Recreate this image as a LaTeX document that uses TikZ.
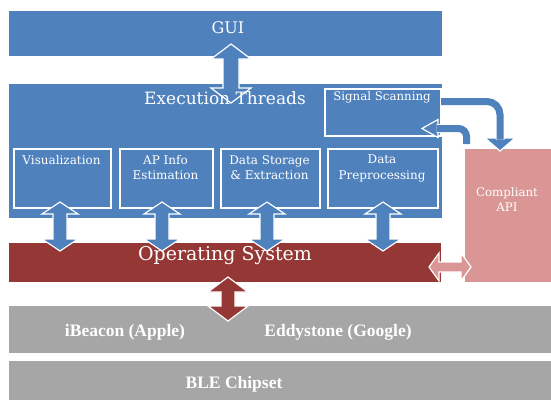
\documentclass[tikz,border=0pt]{standalone}
\usepackage{fontspec}
\setmainfont{DejaVu Serif}
\newfontfamily\timesf{Liberation Serif}
\definecolor{oblue}{HTML}{4F81BD}
\definecolor{ored}{HTML}{953735}
\definecolor{opink}{HTML}{D99694}
\definecolor{ogrey}{HTML}{A6A6A6}
\newcommand{\VDArrow}[7]{%
  \filldraw[#7] (#1,#2) -- ({#1+#4},{#2+#6}) -- ({#1+#5},{#2+#6}) -- ({#1+#5},{#3-#6}) -- ({#1+#4},{#3-#6}) -- (#1,#3)
   -- ({#1-#4},{#3-#6}) -- ({#1-#5},{#3-#6}) -- ({#1-#5},{#2+#6}) -- ({#1-#4},{#2+#6}) -- cycle;}
\newcommand{\HDArrow}[7]{%
  \filldraw[#7] (#1,#3) -- ({#1+#6},{#3-#4}) -- ({#1+#6},{#3-#5}) -- ({#2-#6},{#3-#5}) -- ({#2-#6},{#3-#4}) -- (#2,#3)
   -- ({#2-#6},{#3+#4}) -- ({#2-#6},{#3+#5}) -- ({#1+#6},{#3+#5}) -- ({#1+#6},{#3+#4}) -- cycle;}
\tikzset{
  blk/.style={draw=white, line width=1pt, inner sep=0pt, anchor=north west},
  sub/.style={draw=white, line width=1.6pt, inner sep=0pt, anchor=north west, fill=oblue},
  txt/.style={text=white, inner sep=0pt, align=center},
  barrow/.style={fill=oblue, draw=white, line width=1.2pt, line join=miter},
  rarrow/.style={fill=ored, draw=white, line width=1.2pt},
  parrow/.style={fill=opink, draw=white, line width=1.2pt},
  bshaft/.style={draw=white, line width=1pt, double=oblue, double distance=7pt}
}
\begin{document}
\begin{tikzpicture}[x=1pt,y=-1pt]
\useasboundingbox[fill=white] (0,0) rectangle (551,402);
% boxes
\node[blk, fill=oblue, minimum width=434pt, minimum height=46.5pt] (gui) at (8,9.5) {};
\node[blk, fill=oblue, minimum width=434pt, minimum height=135pt] (exec) at (8,83) {};
\node[blk, draw=white, line width=2pt, fill=oblue, minimum width=116pt, minimum height=47pt] (scan) at (324,88) {};
\node[sub, minimum width=97pt, minimum height=59pt] (vis) at (13,148) {};
\node[sub, minimum width=93pt, minimum height=59pt] (ap) at (119,148) {};
\node[sub, minimum width=99pt, minimum height=59pt] (ds) at (220,148) {};
\node[sub, minimum width=110pt, minimum height=59pt] (dp) at (327,148) {};
\node[blk, fill=ored, minimum width=433pt, minimum height=40pt] (os) at (8,242) {};
\node[blk, fill=opink, minimum width=88pt, minimum height=134pt] (api) at (464,148) {};
\node[blk, fill=ogrey, minimum width=544pt, minimum height=48pt] (beacon) at (8,305) {};
\node[blk, fill=ogrey, minimum width=544pt, minimum height=40pt] (ble) at (8,360) {};
% block arrows
\VDArrow{231}{44}{103}{20}{8}{15}{barrow}
\VDArrow{60}{202}{251}{18}{7}{12}{barrow}
\VDArrow{162}{202}{251}{18}{7}{12}{barrow}
\VDArrow{267}{202}{251}{18}{7}{12}{barrow}
\VDArrow{383}{202}{251}{18}{7}{12}{barrow}
\VDArrow{228}{277}{321}{20}{7}{15}{rarrow}
\HDArrow{429}{471}{267}{14}{5}{10}{parrow}
% curved arrows between Signal Scanning and Compliant API
\filldraw[barrow] (485,138) -- (515,138) -- (500,151) -- cycle;
\draw[bshaft, rounded corners=13pt] (441,101.5) -- (500,101.5) -- (500,139.5);
\filldraw[barrow] (438,119.5) -- (438,137.5) -- (422,128.5) -- cycle;
\draw[bshaft, rounded corners=8pt] (466.5,144) -- (466.5,128.5) -- (436.5,128.5);
% texts
\node[txt, font=\fontsize{16}{18}\selectfont] (tgui) at (228,28) {GUI};
\node[txt, font=\fontsize{17}{20}\selectfont] (texec) at (225,98) {Execution Threads};
\node[txt, font=\fontsize{11.8}{13}\selectfont, anchor=north] (tscan) at (382,91) {Signal Scanning};
\node[txt, font=\fontsize{12}{15.5}\selectfont, anchor=north] (tvis) at (61.5,155) {Visualization};
\node[txt, font=\fontsize{12}{15.5}\selectfont, anchor=north] (tap) at (165.5,155) {AP Info\\Estimation};
\node[txt, font=\fontsize{12}{15.5}\selectfont, anchor=north] (tds) at (269.5,155) {Data Storage\\\& Extraction};
\node[txt, font=\fontsize{12}{15.5}\selectfont, anchor=north] (tdp) at (382,155) {Data\\Preprocessing};
\node[txt, font=\fontsize{11.8}{15}\selectfont] (tapi) at (507,200) {Compliant\\API};
\node[txt, font=\fontsize{19}{22}\selectfont] (tos) at (225,256) {Operating System};
\node[txt, font=\timesf\bfseries\fontsize{17.5}{20}\selectfont] (tib) at (125,332) {iBeacon (Apple)};
\node[txt, font=\timesf\bfseries\fontsize{17.5}{20}\selectfont] (ted) at (338,332) {Eddystone (Google)};
\node[txt, font=\timesf\bfseries\fontsize{17.5}{20}\selectfont] (tble) at (234,384) {BLE Chipset};
\end{tikzpicture}
\end{document}
